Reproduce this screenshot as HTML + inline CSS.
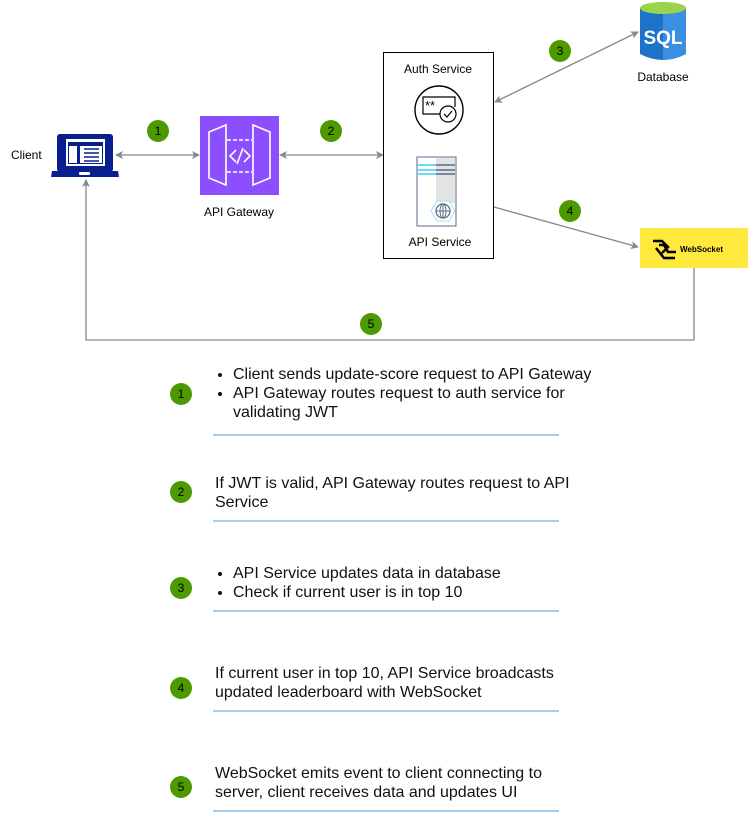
<!DOCTYPE html>
<html><head><style>
body{margin:0;width:748px;height:817px;background:#fff;font-family:"Liberation Sans",sans-serif;overflow:hidden}
svg{position:absolute;left:0;top:0}
.t{position:absolute;font-size:16px;color:#111;line-height:19px}
.t ul{margin:0;padding-left:18px}
</style></head><body>
<svg width="748" height="817" viewBox="0 0 748 817" font-family="Liberation Sans, sans-serif">
<defs><marker id="a" markerWidth="8" markerHeight="8" refX="7" refY="4" orient="auto-start-reverse" markerUnits="userSpaceOnUse"><path d="M0,0 L8,4 L0,8 L2,4z" fill="#888"/></marker></defs>
<g stroke="#888" stroke-width="1.3" fill="none">
<line x1="116" y1="155" x2="199" y2="155" marker-start="url(#a)" marker-end="url(#a)"/>
<line x1="280" y1="155" x2="383" y2="155" marker-start="url(#a)" marker-end="url(#a)"/>
<line x1="495" y1="102" x2="638" y2="32" marker-start="url(#a)" marker-end="url(#a)"/>
<line x1="494" y1="207" x2="638" y2="247" marker-end="url(#a)"/>
<polyline points="694,268 694,340 86,340 86,180" marker-end="url(#a)"/>
</g>
<rect x="57" y="134" width="56" height="38" rx="3" fill="#0a1f8f"/>
<rect x="66" y="139" width="39" height="27" fill="#fff"/>
<rect x="68" y="142" width="35" height="22" fill="#0a1f8f"/>
<rect x="69" y="146" width="8" height="17" fill="#fff"/><rect x="80" y="146" width="22" height="17" fill="#fff"/>
<g stroke="#0a1f8f" stroke-width="1.5"><line x1="84" y1="149" x2="99" y2="149"/><line x1="84" y1="153" x2="99" y2="153"/><line x1="84" y1="157" x2="99" y2="157"/><line x1="84" y1="161" x2="99" y2="161"/></g>
<path d="M52,171 L118,171 L119,177 L51,177z" fill="#0a1f8f"/><rect x="79" y="172" width="11" height="3" rx="1" fill="#fff"/>
<text x="11" y="159" font-size="12">Client</text>
<rect x="200" y="116" width="79" height="79" fill="#8c4fff"/>
<g stroke="#fff" stroke-width="1.6" fill="none">
<path d="M209,132 L226,125 L226,185 L209,178z"/><path d="M270,132 L253,125 L253,185 L270,178z"/>
<line x1="227" y1="140" x2="252" y2="140" stroke-dasharray="4,2"/><line x1="227" y1="172" x2="252" y2="172" stroke-dasharray="4,2"/>
<path d="M236,150 L230,156 L236,162 M243,148 L237,164 M244,150 L250,156 L244,162"/></g>
<text x="239" y="216" font-size="12" text-anchor="middle">API Gateway</text>
<rect x="383.5" y="52.5" width="110" height="206" fill="#fff" stroke="#000" stroke-width="1"/>
<text x="438" y="73" font-size="12" text-anchor="middle">Auth Service</text>
<circle cx="439" cy="110" r="24" fill="#fff" stroke="#000" stroke-width="1.4"/>
<path d="M455,107 L455,97 L423,97 L423,114 L440,114" fill="none" stroke="#000" stroke-width="1.2"/>
<text x="425" y="110" font-size="13">**</text>
<circle cx="448" cy="114" r="8" fill="#fff" stroke="#000" stroke-width="1.2"/>
<path d="M444,114 L447,117 L452,111" fill="none" stroke="#000" stroke-width="1.2"/>
<rect x="417" y="157" width="39" height="69" fill="#fff" stroke="#5a6b8a" stroke-width="1"/>
<rect x="436" y="158" width="19" height="45" fill="#e3e3e3"/>
<g stroke-width="1.5"><line x1="418" y1="165" x2="436" y2="165" stroke="#3cd0f0"/><line x1="436" y1="165" x2="455" y2="165" stroke="#5a6b8a"/>
<line x1="418" y1="170" x2="436" y2="170" stroke="#3cd0f0"/><line x1="436" y1="170" x2="455" y2="170" stroke="#5a6b8a"/>
<line x1="418" y1="174" x2="436" y2="174" stroke="#3cd0f0"/><line x1="436" y1="174" x2="455" y2="174" stroke="#5a6b8a"/></g>
<polygon points="431,211 437,201 449,201 455,211 449,221 437,221" fill="#fff" stroke="#9fe4f5"/>
<circle cx="443" cy="211" r="7" fill="#fff" stroke="#5a6b8a" stroke-width="1.3"/>
<path d="M436,211 H450 M443,204 V218" stroke="#5a6b8a"/><ellipse cx="443" cy="211" rx="3" ry="7" fill="none" stroke="#5a6b8a"/>
<text x="440" y="246" font-size="12" text-anchor="middle">API Service</text>
<path d="M640,8 L640,54 Q663,66 686,54 L686,8z" fill="#1d73c9"/>
<path d="M663,12 L663,60 Q676,59 686,54 L686,8z" fill="#3a8fe0"/>
<ellipse cx="663" cy="8" rx="23" ry="6" fill="#9ad44a"/>
<text x="663" y="44" font-size="19" font-weight="bold" fill="#fff" text-anchor="middle">SQL</text>
<text x="663" y="81" font-size="12" text-anchor="middle">Database</text>
<rect x="640" y="228" width="108" height="40" fill="#ffe93d"/>
<path d="M653,241 L662,241 L668,247 L662,253 M659,245 L664,245 L668,252 L676,252 M656,248 L664,258 L675,258" fill="none" stroke="#000" stroke-width="2.5"/>
<text x="680" y="252" font-size="8" font-weight="bold">WebSocket</text>
<g font-size="12" text-anchor="middle">
<circle cx="158" cy="131" r="11" fill="#4d9900"/><text x="158" y="135">1</text>
<circle cx="331" cy="131" r="11" fill="#4d9900"/><text x="331" y="135">2</text>
<circle cx="560" cy="51" r="11" fill="#4d9900"/><text x="560" y="55">3</text>
<circle cx="570" cy="211" r="11" fill="#4d9900"/><text x="570" y="215">4</text>
<circle cx="371" cy="324" r="11" fill="#4d9900"/><text x="371" y="328">5</text>
<circle cx="181" cy="394" r="11" fill="#4d9900"/><text x="181" y="398">1</text>
<circle cx="181" cy="492" r="11" fill="#4d9900"/><text x="181" y="496">2</text>
<circle cx="181" cy="588" r="11" fill="#4d9900"/><text x="181" y="592">3</text>
<circle cx="181" cy="688" r="11" fill="#4d9900"/><text x="181" y="692">4</text>
<circle cx="181" cy="787" r="11" fill="#4d9900"/><text x="181" y="791">5</text>
</g>
<g stroke="#a7cdf0" stroke-width="2">
<line x1="213" y1="435" x2="559" y2="435"/><line x1="213" y1="521" x2="559" y2="521"/>
<line x1="213" y1="611" x2="559" y2="611"/><line x1="213" y1="711" x2="559" y2="711"/>
<line x1="213" y1="811" x2="559" y2="811"/></g>
</svg>
<div class="t" style="left:215px;top:365px;width:385px"><ul><li>Client sends update-score request to API Gateway</li><li>API Gateway routes request to auth service for<br>validating JWT</li></ul></div>
<div class="t" style="left:215px;top:474px;width:365px">If JWT is valid, API Gateway routes request to API Service</div>
<div class="t" style="left:215px;top:564px"><ul><li>API Service updates data in database</li><li>Check if current user is in top 10</li></ul></div>
<div class="t" style="left:215px;top:664px">If current user in top 10, API Service broadcasts<br>updated leaderboard with WebSocket</div>
<div class="t" style="left:215px;top:764px">WebSocket emits event to client connecting to<br>server, client receives data and updates UI</div>
</body></html>
